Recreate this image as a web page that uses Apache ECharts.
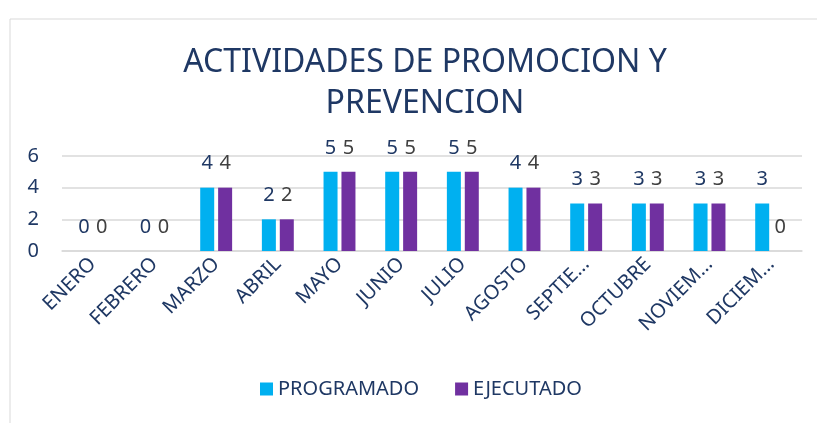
<!DOCTYPE html>
<html>
<head>
<meta charset="utf-8">
<script src="https://cdn.jsdelivr.net/npm/echarts@6/dist/echarts.min.js"></script>
<style>
  html, body { margin: 0; padding: 0; background: #fff; }
  #chart { width: 817px; height: 423px; }
</style>
</head>
<body>
<div id="chart"></div>
<script>
const months = ['ENERO', 'FEBRERO', 'MARZO', 'ABRIL', 'MAYO', 'JUNIO', 'JULIO', 'AGOSTO',
  'SEPTIEMBRE', 'OCTUBRE', 'NOVIEMBRE', 'DICIEMBRE']
const programado = [0, 0, 4, 2, 5, 5, 5, 4, 3, 3, 3, 3]
const ejecutado = [0, 0, 4, 2, 5, 5, 5, 4, 3, 3, 3, 0]
const yTicks = [0, 2, 4, 6]

const navy = '#1f3864'
const font = 'Noto Sans'

let myChart = echarts.init(document.getElementById('chart'))
myChart.setOption({
  animation: false,
  textStyle: { fontFamily: font },
  title: {
    text: 'ACTIVIDADES DE PROMOCION Y\nPREVENCION',
    left: 420,
    top: 37,
    textAlign: 'center',
    textStyle: { color: navy, fontSize: 32, fontWeight: 'normal', lineHeight: 41, fontFamily: font }
  },
  graphic: [{
    type: 'rect',
    shape: { x: 10, y: 19, width: 830, height: 430 },
    style: { fill: 'none', stroke: '#d9d9d9', lineWidth: 1 },
    silent: true
  }],
  legend: {
    bottom: 19,
    left: 255,
    itemWidth: 13,
    itemHeight: 13,
    itemGap: 36,
    icon: 'rect',
    textStyle: { color: navy, fontSize: 20 },
    data: ['PROGRAMADO', 'EJECUTADO']
  },
  grid: { left: 62, right: 15, top: 156, bottom: 172, containLabel: false },
  xAxis: {
    type: 'category',
    data: months,
    axisLine: { lineStyle: { color: '#d9d9d9', width: 1.5 } },
    axisTick: { show: false },
    axisLabel: {
      rotate: 45,
      interval: 0,
      color: navy,
      fontSize: 20,
      margin: 10,
      formatter: function (v) {
        return v.length > 7 ? v.slice(0, 6) + '…' : v
      }
    }
  },
  yAxis: {
    type: 'value',
    min: yTicks[0],
    max: yTicks[yTicks.length - 1],
    interval: 2,
    axisLine: { show: false },
    axisTick: { show: false },
    splitLine: { lineStyle: { color: '#d9d9d9', width: 1.5 } },
    axisLabel: { color: navy, fontSize: 20, margin: 23 }
  },
  series: [
    {
      name: 'PROGRAMADO',
      type: 'bar',
      data: programado,
      barWidth: 14,
      barGap: '28%',
      itemStyle: { color: '#00b0f0' },
      label: { show: true, position: 'top', distance: 14, color: navy, fontSize: 20 }
    },
    {
      name: 'EJECUTADO',
      type: 'bar',
      data: ejecutado,
      barWidth: 14,
      itemStyle: { color: '#7030a0' },
      label: { show: true, position: 'top', distance: 14, color: '#404040', fontSize: 20 }
    }
  ]
})
</script>
</body>
</html>
